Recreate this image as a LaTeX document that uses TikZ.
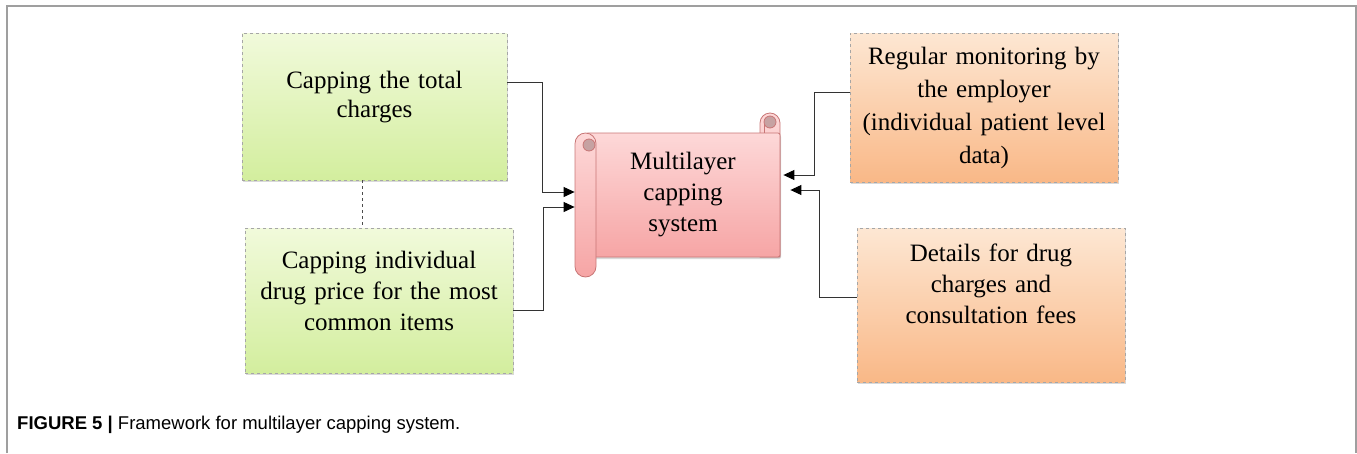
\documentclass[tikz,border=0pt]{standalone}
\usepackage{fontspec}
\usepackage{graphicx}
\setmainfont{Liberation Serif}
\setsansfont{Liberation Sans}
\usetikzlibrary{arrows.meta}
\usetikzlibrary{shadows}

\definecolor{greentop}{HTML}{F1FADB}
\definecolor{greenbot}{HTML}{D3EE9E}
\definecolor{orangetop}{HTML}{FDE7D3}
\definecolor{orangebot}{HTML}{F9B887}
\definecolor{pinktop}{HTML}{FDD8D8}
\definecolor{pinkbot}{HTML}{F6A5A5}
\definecolor{pinkline}{HTML}{C87676}
\definecolor{curlgrey}{HTML}{C6A2A2}

\tikzset{
  box/.style={draw=gray!70, dashed, line width=0.6pt, align=center,
    minimum width=265pt, minimum height=147pt, text width=255pt, inner xsep=3pt,
    font=\fontsize{25}{31}\selectfont,
    drop shadow={shadow xshift=1pt, shadow yshift=-2pt, opacity=0.3, fill=gray}},
  greenbox/.style={box, top color=greentop, bottom color=greenbot},
  orangebox/.style={box, top color=orangetop, bottom color=orangebot},
  scrollbody/.style={draw=pinkline, line width=0.8pt, top color=pinktop, bottom color=pinkbot,
    minimum width=194pt, minimum height=124pt, rounded corners=2pt, align=center,
    font=\fontsize{25}{31}\selectfont,
    drop shadow={shadow xshift=1pt, shadow yshift=-2pt, opacity=0.3, fill=gray}},
  rollline/.style={draw=pinkline, line width=0.8pt},
  frame/.style={draw=gray!75, line width=1.3pt},
  link/.style={draw=black!80, line width=1pt, -{Triangle[length=11pt,width=10pt,color=black]}}
}

\begin{document}
\begin{tikzpicture}[x=1pt, y=-1pt]
  \useasboundingbox (0,0) rectangle (1357,453);
  \draw[frame] (7,453) -- (7,6) -- (1356,6) -- (1356,453);

  \node[greenbox, font=\fontsize{25}{29}\selectfont, text depth=53pt] (total) at (374.5,106.5)
    {Capping the total\\charges};
  \node[greenbox, minimum width=268pt, minimum height=145pt, text depth=82pt] (single) at (379,300.5)
    {Capping individual\\drug price for the most\\common items};
  \node[orangebox, font=\fontsize{25}{33}\selectfont, minimum width=268pt, minimum height=149pt] (monitor) at (984,107.5)
    {Regular monitoring by\\the employer\\(individual patient level\\data)};
  \node[orangebox, minimum width=268pt, minimum height=154pt, text depth=104pt] (details) at (991,305)
    {Details for drug\\charges and\\consultation fees};

  \draw[rollline, top color=pinktop, bottom color=pinkbot]
    (760,257) -- (760,123) arc[start angle=-180, end angle=0, radius=10] -- (780,257) -- cycle;
  \node[scrollbody] (scroll) at (683,195) {Multilayer\\capping\\system};
  \draw[rollline, top color=pinktop, bottom color=pinkbot, rounded corners=10.5pt]
    (575,133) rectangle (596,277);
  \filldraw[rollline, fill=curlgrey] (589,145) circle[radius=6];
  \filldraw[rollline, fill=curlgrey] (770,122) circle[radius=6];
  \draw[rollline] (764,124) -- (764,133);

  \coordinate (inA) at ([xshift=-11pt,yshift=3pt]scroll.west);
  \coordinate (inB) at ([xshift=-11pt,yshift=-12pt]scroll.west);
  \coordinate (inC) at ([xshift=3pt,yshift=20pt]scroll.east);
  \coordinate (inD) at ([xshift=10pt,yshift=5pt]scroll.east);

  \draw[link] ([yshift=-50pt]total.north east) -- ++(35,0) |- (inA);
  \draw[link] ([yshift=-10pt]single.east) -- ++(30,0) |- (inB);
  \draw[link] ([yshift=15pt]monitor.west) -- ++(-35,0) |- (inC);
  \draw[link] ([yshift=8pt]details.west) -- ++(-37,0) |- (inD);
  \draw[dashed, black!70, line width=0.8pt] ([xshift=-12pt]total.south) -- ([xshift=-12pt]total.south |- single.north);

  \node[anchor=base west, inner sep=0pt, font=\sffamily\fontsize{18.5}{22}\selectfont] (caption) at (17,429)
    {\textbf{FIGURE 5 |} Framework for multilayer capping system.};
\end{tikzpicture}
\end{document}
